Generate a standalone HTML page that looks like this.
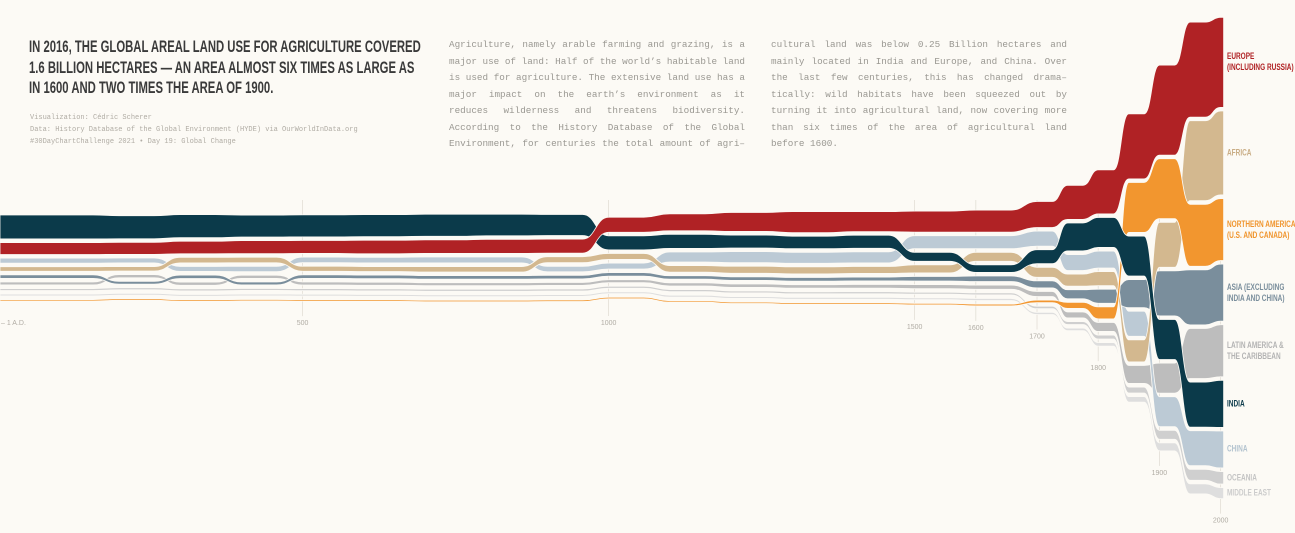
<!DOCTYPE html>
<html><head><meta charset="utf-8">
<style>
html,body{margin:0;padding:0;background:#fcfaf5;}
#wrap{position:relative;width:1295px;height:533px;overflow:hidden;background:#fcfaf5;font-family:"Liberation Sans",sans-serif;}
#title{position:absolute;left:29px;top:37px;font-family:"Liberation Sans",sans-serif;font-weight:bold;font-size:17px;line-height:20.5px;color:#3a3a3a;white-space:nowrap;transform:scaleX(0.665);transform-origin:0 0;}
#caption{position:absolute;left:30px;top:112px;font-family:"Liberation Mono",monospace;font-size:7px;line-height:12px;color:#b0aca4;}
.col{position:absolute;top:37px;width:296px;font-family:"Liberation Mono",monospace;font-size:9.3px;line-height:16.5px;color:#9a9892;}
.col div{text-align:justify;text-align-last:justify;white-space:nowrap;}
.col div.last{text-align-last:left;}
.lbl{position:absolute;left:1227px;font-family:"Liberation Sans",sans-serif;font-weight:bold;font-size:9px;line-height:11px;white-space:nowrap;transform:translateY(-50%) scaleX(0.72);transform-origin:0 50%;}
svg{position:absolute;left:0;top:0;}
</style></head>
<body>
<div id="wrap">
<svg id="chart" width="1295" height="533"></svg>
<div id="title">IN 2016, THE GLOBAL AREAL LAND USE FOR AGRICULTURE COVERED<br>1.6 BILLION HECTARES — AN AREA ALMOST SIX TIMES AS LARGE AS<br>IN 1600 AND TWO TIMES THE AREA OF 1900.</div>
<div id="caption">Visualization: Cédric Scherer<br>Data: History Database of the Global Environment (HYDE) via OurWorldInData.org<br>#30DayChartChallenge 2021 • Day 19: Global Change</div>
<div class="col" style="left:449px">
<div>Agriculture, namely arable farming and grazing, is a</div>
<div>major use of land: Half of the world’s habitable land</div>
<div>is used for agriculture. The extensive land use has a</div>
<div>major impact on the earth’s environment as it</div>
<div>reduces wilderness and threatens biodiversity.</div>
<div>According to the History Database of the Global</div>
<div>Environment, for centuries the total amount of agri–</div>
</div>
<div class="col" style="left:771px">
<div>cultural land was below 0.25 Billion hectares and</div>
<div>mainly located in India and Europe, and China. Over</div>
<div>the last few centuries, this has changed drama–</div>
<div>tically: wild habitats have been squeezed out by</div>
<div>turning it into agricultural land, now covering more</div>
<div>than six times of the area of agricultural land</div>
<div class="last">before 1600.</div>
</div>
<div id="labels"></div>
</div>
<script>
const years = [0,100,200,300,400,500,600,700,800,900,1000,1100,1200,1300,1400,1500,1600,1700,1750,1800,1850,1900,1950,2000];
const regions = ["EU","AF","NA","AS","LA","IN","CN","OC","ME"];
const regionLabels = ["EUROPE<br>(INCLUDING RUSSIA)","AFRICA","NORTHERN AMERICA<br>(U.S. AND CANADA)","ASIA (EXCLUDING<br>INDIA AND CHINA)","LATIN AMERICA &amp;<br>THE CARIBBEAN","INDIA","CHINA","OCEANIA","MIDDLE EAST"];
const valEU = [12,12,12,12.5,13,13,13.5,13.5,14,14,15,17,19,21,20,21,22,26,34,44,65,90,95,90];
const valAF = [4.5,4.5,4.5,5.5,5.5,5,5,5.5,5.5,6,6,6.5,7,7,7,8,9,10,12,14,22,45,80,84];
const valNA = [1.5,1.5,1.5,1.5,1.5,1.5,1.5,1.5,1.5,1.5,1.5,1.5,1.5,1.5,1.5,1.6,1.8,2.5,6,12,50,60,62,62];
const valAS = [3.5,3.5,2.8,3.5,2.9,3.5,3.5,3.5,3.5,3.5,3.5,3.5,3.5,3.6,3.8,4.5,5.5,7,9,14,28,45,55,57];
const valLA = [3,3,3.1,3.1,3.1,3.1,3,2.9,2.9,2.9,2.9,3.2,3.4,3.5,3.7,4,4.2,5,6,9,18,30,50,52];
const valIN = [24,24,23,23,22,22,22,22,21.5,21,14,14,13,12.5,13,9,7.5,14,28,30,40,40,45,47];
const valCN = [5,5,5,5,5.3,5.6,5.6,6,6,5.5,6,10,11,11,11,13,13,15,16,17,25,30,35,37];
const valOC = [2,2,2,2,2,2,2,2,2,2,2,2,2,2,2,2,2,2.5,3,4,6,9,11,12.5];
const valME = [1.8,1.8,1.8,1.8,1.8,1.8,1.8,1.8,1.8,1.8,1.8,1.9,1.9,1.9,1.9,1.9,2,2.2,2.5,3.5,5.5,8,10,11];
const tickYears = [0,500,1000,1500,1600,1700,1800,1900,2000];
const tickLabels = ["– 1 A.D.","500","1000","1500","1600","1700","1800","1900","2000"];

const series = [valEU,valAF,valNA,valAS,valLA,valIN,valCN,valOC,valME];
const colors = ["#b02225","#d3b88f","#f2962f","#7a8e9c","#bdbdbd","#0b3a4a","#bccad5","#cfcfcf","#dedede"];
const labelColors = ["#b02225","#c9ad85","#f0952e","#7a8e9c","#b3b3b3","#0b3a4a","#b3c3cf","#c4c4c4","#cccccc"];
const NS = "http://www.w3.org/2000/svg";
const svg = document.getElementById('chart');
const xScale = y => -4 + (y + 1) * 0.612;
const GAP = 3.6, CENTER = 258, K = 1.0;

const tops = series.map(()=>[]), bots = series.map(()=>[]);
const stackBottom = [];
years.forEach((yr,i)=>{
  const order = series.map((s,j)=>j).sort((a,b)=>series[b][i]-series[a][i]);
  let total = 0; order.forEach(j=> total += series[j][i]*K);
  total += GAP*(order.length-1);
  let y = CENTER - total/2;
  order.forEach(j=>{ tops[j][i]=y; y+=series[j][i]*K; bots[j][i]=y; y+=GAP; });
  stackBottom[i] = y - GAP;
});

const gT = document.createElementNS(NS,'g'); svg.appendChild(gT);
tickYears.forEach((ty,k)=>{
  const i = years.indexOf(ty);
  const x = xScale(ty);
  const ly = Math.max(325, stackBottom[i] + 24);
  const ln = document.createElementNS(NS,'line');
  
  
  ln.setAttribute('x1',x);ln.setAttribute('x2',x);ln.setAttribute('y1',200);ln.setAttribute('y2',ly-9);
  ln.setAttribute('stroke','#e2ded6');ln.setAttribute('stroke-width','0.8');
  gT.appendChild(ln);
  const t = document.createElementNS(NS,'text');
  
  
  t.setAttribute('x', k===0 ? 1 : x); t.setAttribute('y', ly);
  t.setAttribute('text-anchor', k===0 ? 'start':'middle');
  t.setAttribute('font-size','7'); t.setAttribute('fill','#b0aca4');
  t.setAttribute('font-family','"Liberation Sans",sans-serif');
  t.textContent = tickLabels[k];
  gT.appendChild(t);
});

function edge(arr, forward){
  const n = years.length; let d = '';
  const xEnd = xScale(2000)+3;
  if(forward){
    d += `M0,${arr[0]} `;
    for(let i=0;i<n-1;i++){
      const x0=xScale(years[i]), x1=xScale(years[i+1]);
      const tw=Math.min((x1-x0)*0.5,26), xs=x1-tw, xm=(xs+x1)/2;
      d += `L${xs},${arr[i]} C${xm},${arr[i]} ${xm},${arr[i+1]} ${x1},${arr[i+1]} `;
    }
    d += `L${xEnd},${arr[n-1]} `;
  } else {
    d += `L${xEnd},${arr[n-1]} `;
    for(let i=n-1;i>0;i--){
      const x0=xScale(years[i-1]), x1=xScale(years[i]);
      const tw=Math.min((x1-x0)*0.5,26), xs=x1-tw, xm=(xs+x1)/2;
      d += `L${x1},${arr[i]} C${xm},${arr[i]} ${xm},${arr[i-1]} ${xs},${arr[i-1]} `;
    }
    d += `L0,${arr[0]} Z`;
  }
  return d;
}
const drawOrder = [8,7,4,6,3,1,2,5,0];
drawOrder.forEach(j=>{
  const p = document.createElementNS(NS,'path');
  
  
  p.setAttribute('d', edge(tops[j],true) + edge(bots[j],false));
  p.setAttribute('fill', colors[j]);
  p.setAttribute('stroke','#fcfaf5'); p.setAttribute('stroke-width','0.8');
  svg.appendChild(p);
});

const labDiv = document.getElementById('labels');
const last = years.length-1;
regions.forEach((r,j)=>{
  const d = document.createElement('div');
  d.className='lbl';
  
  
  d.style.top = ((tops[j][last]+bots[j][last])/2)+'px';
  d.style.color = labelColors[j];
  d.innerHTML = regionLabels[j];
  labDiv.appendChild(d);
});
</script>
</body></html>
